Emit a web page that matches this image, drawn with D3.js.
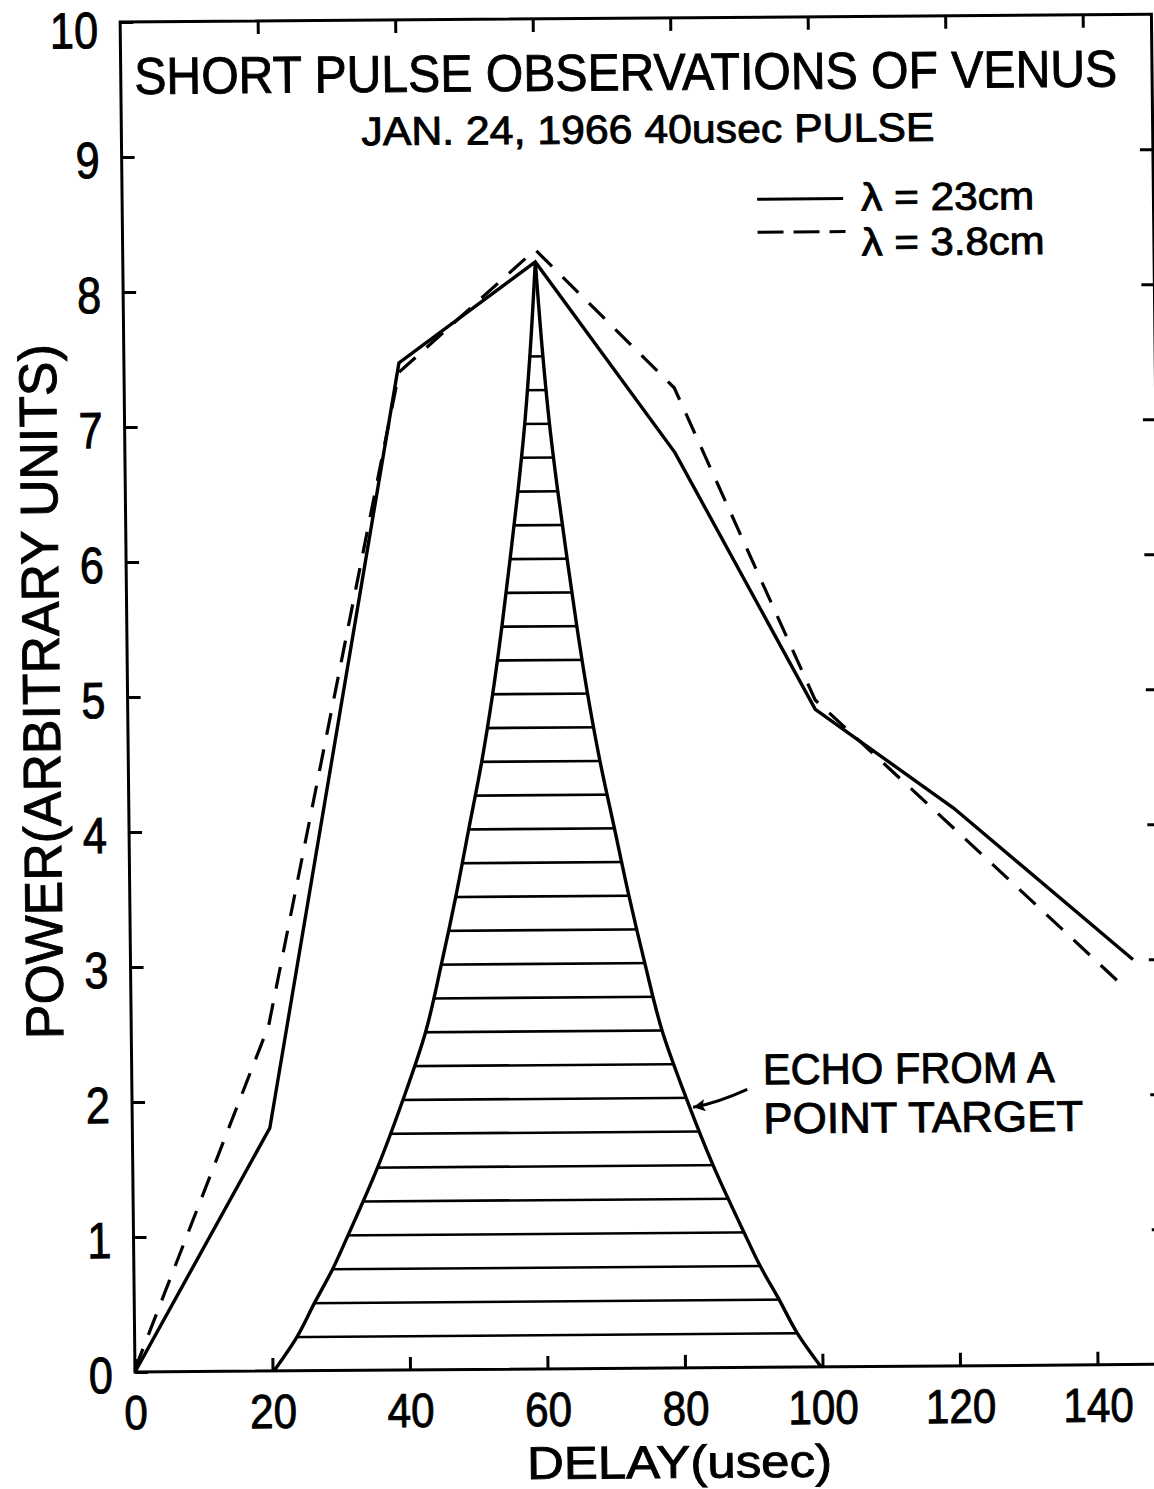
<!DOCTYPE html>
<html>
<head>
<meta charset="utf-8">
<title>Short Pulse Observations of Venus</title>
<script src="https://cdn.jsdelivr.net/npm/d3@7"></script>
<style>
  body { margin: 0; background: #fff; }
  svg { display: block; }
  text { font-family: "Liberation Sans", Arial, sans-serif; fill: #000; stroke: #000; stroke-width: 0.9px; }
</style>
</head>
<body>
<script>
// power (arbitrary units) against delay (usec)
const delay23 = [0, 20, 40, 60, 80, 100, 120, 145.8];
const power23 = [0, 1.8, 7.46, 8.2, 6.78, 4.87, 4.13, 3.0];
const delay38 = [0, 20, 40, 60, 80, 100, 120, 144.2];
const power38 = [0.02, 2.56, 7.39, 8.29, 7.26, 4.94, 3.98, 2.81];

// echo from a point target: left / right edge (usec) at each power level
const echoLevel = [0, 0.25, 0.5, 0.75, 1, 1.5, 2, 2.5, 3, 3.5, 4, 4.5, 5, 5.5, 6, 6.5, 7, 7.5, 8.2];
const echoLeft  = [20.2, 23.6, 26.2, 28.9, 31.2, 35.6, 39.4, 42.8, 45.2, 47.4, 49.4, 51.4, 53.1, 54.55, 55.85, 57.1, 58.2, 59.05, 60];
const echoRight = [99.8, 96.4, 93.8, 91.1, 88.8, 84.4, 80.6, 77.2, 74.8, 72.6, 70.6, 68.6, 66.9, 65.45, 64.15, 62.9, 61.8, 60.95, 60];
const hatchLevels = [0.25, 0.5, 0.75, 1, 1.25, 1.5, 1.75, 2, 2.25, 2.5, 2.75, 3, 3.25, 3.5, 3.75,
                     4, 4.25, 4.5, 4.75, 5, 5.25, 5.5, 5.75, 6, 6.25, 6.5, 6.75, 7, 7.25, 7.5];

const xTicks = [0, 20, 40, 60, 80, 100, 120, 140];
const yTicks = [0, 1, 2, 3, 4, 5, 6, 7, 8, 9, 10];

const W = 1154, H = 1489;
const x0 = 135, y0 = 1372;          // lower left corner of the frame
const sh = 0.0075, sv = 0.011;      // the scan is a little askew

const x = d3.scaleLinear().domain([0, 150]).range([x0, x0 + 150 * 6.875]);
const y = d3.scaleLinear().domain([0, 10]).range([y0, y0 - 1350]);

const svg = d3.select("body").append("svg").attr("width", W).attr("height", H);
svg.append("rect").attr("width", W).attr("height", H).attr("fill", "#fff");

const g = svg.append("g")
    .attr("transform", `matrix(1,${-sh},${sv},1,${-y0 * sv},${x0 * sh})`);

// text squeezed sideways to a given width, like the narrow hand lettering
function label(sel, str, xp, yp, size, len, anchor) {
    const holder = sel.append("g");
    const t = holder.append("text")
        .attr("font-size", size)
        .attr("text-anchor", anchor || "start")
        .text(str);
    const sx = len / t.node().getComputedTextLength();
    holder.attr("transform", `translate(${xp},${yp}) scale(${sx},1)`);
    return holder;
}

// frame
g.append("rect")
    .attr("x", x(0)).attr("y", y(10))
    .attr("width", x(150) - x(0)).attr("height", y(0) - y(10))
    .attr("fill", "none").attr("stroke", "#000").attr("stroke-width", 3);

function styleAxis(a) {
    a.select(".domain").remove();
    a.selectAll(".tick line").attr("stroke", "#000").attr("stroke-width", 3);
    a.selectAll("text").attr("font-family", null).attr("font-size", 51).attr("fill", "#000");
}

g.append("g").attr("transform", `translate(0,${y0})`)
    .call(d3.axisBottom(x).tickValues(xTicks).tickSizeInner(-13).tickSizeOuter(0).tickPadding(23))
    .call(styleAxis)
    .call(a => a.selectAll("text").attr("font-size", 48).attr("transform", "scale(0.88,1)"));

g.append("g").attr("transform", `translate(${x0},0)`)
    .call(d3.axisLeft(y).tickValues(yTicks).tickSizeInner(-13).tickSizeOuter(0).tickPadding(26))
    .call(styleAxis)
    .call(a => a.selectAll("text")
        .attr("dy", d => d === 10 ? "0.5em" : "0.4em")
        .attr("transform", "scale(0.85,1)"));

g.append("g").attr("transform", `translate(0,${y(10)})`)
    .call(d3.axisTop(x).tickValues(xTicks.slice(1)).tickSizeInner(-13).tickSizeOuter(0).tickFormat(() => ""))
    .call(styleAxis);

g.append("g").attr("transform", `translate(${x(150)},0)`)
    .call(d3.axisRight(y).tickValues(yTicks.slice(1, -1)).tickSizeInner(-13).tickSizeOuter(0).tickFormat(() => ""))
    .call(styleAxis);

// echo from a point target, hatched
const edge = d3.line().x(d => x(d[0])).y(d => y(d[1])).curve(d3.curveMonotoneY);
const leftPts = d3.zip(echoLeft, echoLevel);
const rightPts = d3.zip(echoRight, echoLevel).reverse();

g.append("clipPath").attr("id", "echoClip")
    .append("path")
    .attr("d", edge(leftPts) + edge(rightPts).replace(/^M/, "L") + "Z");

g.append("g").attr("clip-path", "url(#echoClip)")
    .selectAll("line").data(hatchLevels).join("line")
    .attr("x1", x(10)).attr("x2", x(110))
    .attr("y1", d => y(d)).attr("y2", d => y(d))
    .attr("stroke", "#000").attr("stroke-width", 2.6);

g.selectAll(".echo").data([leftPts, rightPts]).join("path")
    .attr("class", "echo")
    .attr("d", edge)
    .attr("fill", "none").attr("stroke", "#000").attr("stroke-width", 3.4);

// the two wavelengths
const line = d3.line().x(d => x(d[0])).y(d => y(d[1]));

g.append("path").datum(d3.zip(delay23, power23))
    .attr("d", line)
    .attr("fill", "none").attr("stroke", "#000").attr("stroke-width", 3.4)
    .attr("stroke-linejoin", "miter");

g.append("path").datum(d3.zip(delay38, power38))
    .attr("d", line)
    .attr("fill", "none").attr("stroke", "#000").attr("stroke-width", 3.2)
    .attr("stroke-dasharray", "22,15");

// titles
label(g, "SHORT PULSE OBSERVATIONS OF VENUS", 640, 94, 52, 983, "middle");
label(g, "JAN. 24, 1966 40usec PULSE", 375, 147, 40, 573);

// legend
g.append("line").attr("x1", 770).attr("x2", 856).attr("y1", 204).attr("y2", 204)
    .attr("stroke", "#000").attr("stroke-width", 3);
label(g, "λ = 23cm", 874, 216, 39, 173);
g.append("line").attr("x1", 770).attr("x2", 858).attr("y1", 237).attr("y2", 237)
    .attr("stroke", "#000").attr("stroke-width", 3).attr("stroke-dasharray", "26,10");
label(g, "λ = 3.8cm", 874, 261, 39, 183);

// annotation
label(g, "ECHO FROM A", 766, 1089, 43, 292);
label(g, "POINT TARGET", 766, 1138, 43, 320);

svg.append("defs").append("marker")
    .attr("id", "head").attr("viewBox", "0 0 10 10")
    .attr("refX", 10).attr("refY", 5)
    .attr("markerWidth", 22).attr("markerHeight", 12)
    .attr("markerUnits", "userSpaceOnUse").attr("orient", "auto")
    .append("path").attr("d", "M0,0L10,5L0,10L2,5Z").attr("fill", "#000");

const arrowFrom = [89.5, 2.06], arrowTo = [81.6, 1.93];
const ax1 = x(arrowFrom[0]), ay1 = y(arrowFrom[1]);
const ax2 = x(arrowTo[0]), ay2 = y(arrowTo[1]);
g.append("path")
    .attr("d", `M${ax1},${ay1}Q${(ax1 + ax2) / 2 - 4},${(ay1 + ay2) / 2 + 5} ${ax2},${ay2}`)
    .attr("fill", "none").attr("stroke", "#000").attr("stroke-width", 3)
    .attr("marker-end", "url(#head)");

// axis titles
label(g, "DELAY(usec)", 526, 1482, 46, 305);
label(g, "POWER(ARBITRARY UNITS)", 0, 0, 53, 695, "middle")
    .attr("transform", function () {
        return "translate(67,691) rotate(-90) " + d3.select(this).attr("transform");
    });
</script>
</body>
</html>
